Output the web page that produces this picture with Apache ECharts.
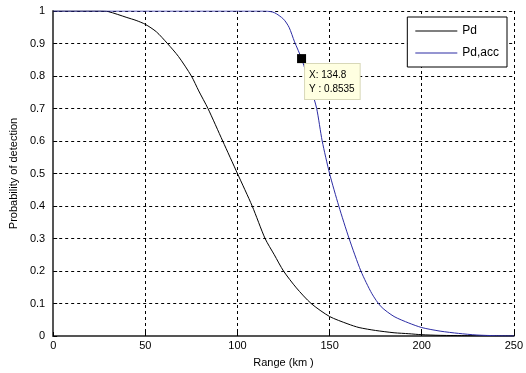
<!DOCTYPE html>
<html>
<head>
<meta charset="utf-8">
<script src="https://cdn.jsdelivr.net/npm/echarts@6/dist/echarts.min.js"></script>
<style>
  html, body { margin: 0; padding: 0; background: #fff; }
  #chart { width: 526px; height: 373px; }
</style>
</head>
<body>
<div id="chart"></div>
<script>
// Pd curve (black)
const rangePd = [0, 25, 30, 40, 45, 50, 56, 62, 68, 75, 79, 84, 92, 100, 108, 115, 120, 125, 132, 140, 150, 160, 166, 175, 185, 193, 200, 210, 225, 250]
const valuesPd = [1, 1, 0.998, 0.98, 0.971, 0.959, 0.936, 0.9, 0.86, 0.8, 0.754, 0.7, 0.6, 0.5, 0.4, 0.3, 0.25, 0.2, 0.148, 0.1, 0.06, 0.037, 0.026, 0.017, 0.01, 0.007, 0.004, 0.002, 0.001, 0]
// Pd,acc curve (blue)
const rangeAcc = [0, 115, 120, 125, 128, 131, 134.8, 140, 143, 146, 150, 155, 160.6, 167, 173, 178, 185, 193, 200, 210, 220, 230, 240, 250]
const valuesAcc = [1, 1, 0.995, 0.975, 0.95, 0.905, 0.8535, 0.76, 0.7, 0.6, 0.5, 0.4, 0.3, 0.2, 0.13, 0.09, 0.06, 0.04, 0.026, 0.015, 0.008, 0.003, 0.001, 0]
const seriesNames = ['Pd', 'Pd,acc']
const dataTip = { x: 134.8, y: 0.8535 }

const pairs = (xs, ys) => xs.map((x, i) => [x, ys[i]])

const gridLine = {
  show: true,
  lineStyle: { color: '#000', width: 1, type: [3, 3] },
}

const chart = echarts.init(document.getElementById('chart'))
chart.setOption({
  animation: false,
  textStyle: { fontFamily: 'Liberation Sans, Arial, sans-serif' },
  grid: { left: 53, right: 9, top: 11, bottom: 36 },
  legend: {
    data: seriesNames,
    orient: 'vertical',
    right: 19,
    top: 17,
    itemWidth: 42,
    itemHeight: 1,
    itemGap: 10,
    icon: 'rect',
    padding: [8, 8, 8, 8],
    borderColor: '#000',
    borderWidth: 1,
    backgroundColor: '#fff',
    textStyle: { fontSize: 12, color: '#000' },
  },
  xAxis: {
    type: 'value',
    min: 0,
    max: 250,
    interval: 50,
    name: 'Range (km )',
    nameLocation: 'middle',
    nameGap: 21,
    nameTextStyle: { fontSize: 11, color: '#000' },
    axisLine: { lineStyle: { color: '#555', width: 2 } },
    axisTick: { inside: true, length: 4, lineStyle: { color: '#000' } },
    axisLabel: { fontSize: 11, color: '#000', margin: 4 },
    splitLine: gridLine,
  },
  yAxis: {
    type: 'value',
    min: 0,
    max: 1,
    interval: 0.1,
    name: 'Probability of detection',
    nameLocation: 'middle',
    nameGap: 33,
    nameTextStyle: { fontSize: 11, color: '#000' },
    axisLine: { show: true, lineStyle: { color: '#555', width: 2 } },
    axisTick: { show: true, inside: true, length: 4, lineStyle: { color: '#000' } },
    axisLabel: {
      fontSize: 11,
      color: '#000',
      margin: 8,
      formatter: (v) => String(Math.round(v * 10) / 10),
    },
    splitLine: gridLine,
  },
  series: [
    {
      name: seriesNames[0],
      type: 'line',
      data: pairs(rangePd, valuesPd),
      smooth: 0.25,
      showSymbol: false,
      itemStyle: { color: '#000' },
      lineStyle: { color: '#000', width: 1 },
    },
    {
      name: seriesNames[1],
      type: 'line',
      data: pairs(rangeAcc, valuesAcc),
      smooth: 0.25,
      showSymbol: false,
      itemStyle: { color: '#2c2ca4' },
      lineStyle: { color: '#2c2ca4', width: 1 },
      markPoint: {
        symbol: 'rect',
        symbolSize: 9,
        itemStyle: { color: '#000' },
        data: [{ coord: [dataTip.x, dataTip.y] }],
        label: {
          show: true,
          position: [8, 10],
          formatter: () => `X: ${dataTip.x}\nY : ${dataTip.y}`,
          color: '#000',
          fontSize: 10,
          lineHeight: 14,
          align: 'left',
          backgroundColor: '#ffffe1',
          borderColor: '#d8d8b8',
          borderWidth: 1,
          padding: [4, 5, 3, 4],
        },
      },
    },
  ],
})
</script>
</body>
</html>
